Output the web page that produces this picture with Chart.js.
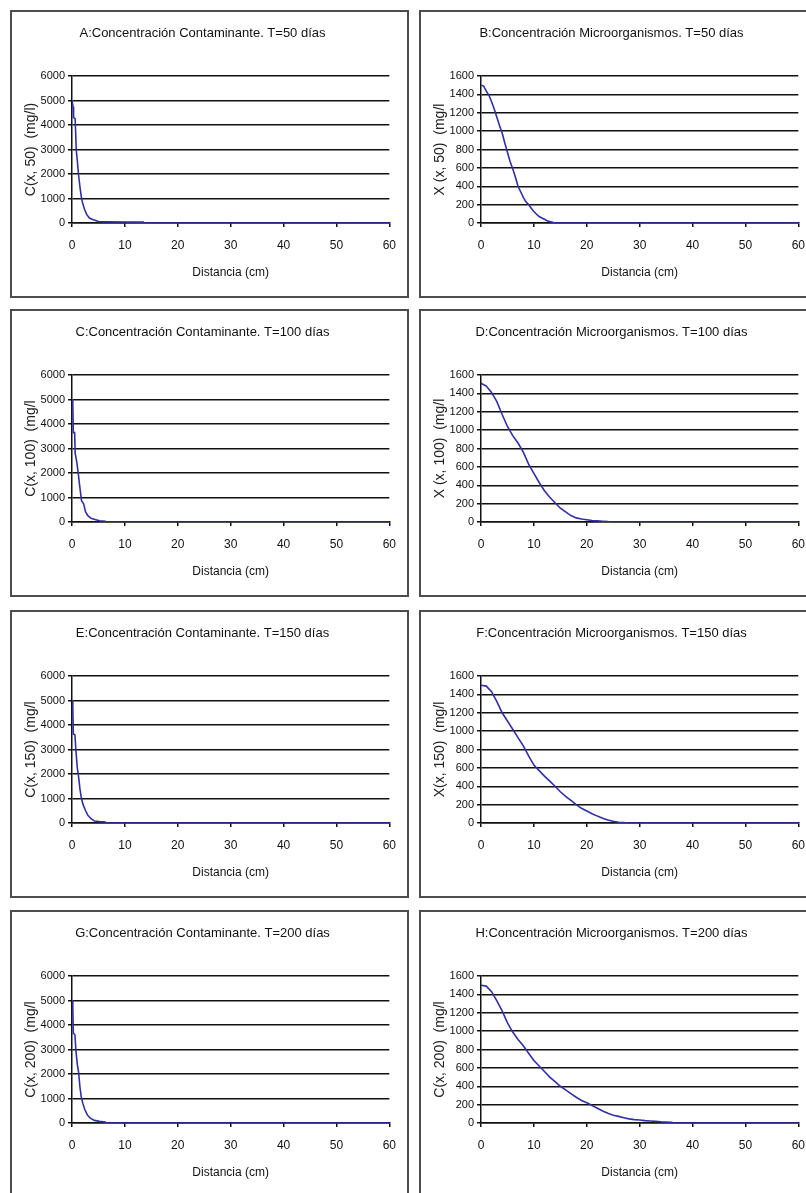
<!DOCTYPE html>
<html>
<head>
<meta charset="utf-8">
<script src="https://cdn.jsdelivr.net/npm/chart.js@4.4.1/dist/chart.umd.min.js"></script>
<style>
  html, body { margin: 0; padding: 0; background: #fff; }
  body { width: 806px; height: 1193px; overflow: hidden; position: relative; }
  .panel { position: absolute; width: 399px; height: 288px; box-sizing: border-box; border: 2px solid #4d4d4d; background: #fff; }
  .panel canvas { display: block; }
</style>
</head>
<body>
<div class="panel" style="left:10px; top:10px"><canvas id="cA" width="395" height="284"></canvas></div>
<div class="panel" style="left:419px; top:10px"><canvas id="cB" width="395" height="284"></canvas></div>
<div class="panel" style="left:10px; top:309px"><canvas id="cC" width="395" height="284"></canvas></div>
<div class="panel" style="left:419px; top:309px"><canvas id="cD" width="395" height="284"></canvas></div>
<div class="panel" style="left:10px; top:610px"><canvas id="cE" width="395" height="284"></canvas></div>
<div class="panel" style="left:419px; top:610px"><canvas id="cF" width="395" height="284"></canvas></div>
<div class="panel" style="left:10px; top:910px"><canvas id="cG" width="395" height="284"></canvas></div>
<div class="panel" style="left:419px; top:910px"><canvas id="cH" width="395" height="284"></canvas></div>
<script>
// --- datos ---
const distA = [0, 0.2, 0.3, 0.6, 0.8, 1.0, 1.25, 1.5, 1.75, 2.0, 2.4, 2.8, 3.3, 4.0, 4.5, 5.0, 5.5, 7, 10, 13.5, 13.6, 60];
const contA = [5000, 4750, 4300, 4250, 3000, 2550, 1950, 1480, 1080, 820, 540, 340, 200, 130, 100, 60, 50, 45, 40, 35, 0, 0];

const distB = [0, 0.5, 1, 1.5, 2, 2.5, 3, 3.5, 4, 4.5, 5, 5.5, 6, 6.5, 7, 7.5, 8, 8.5, 9, 9.5, 10, 10.5, 11, 11.5, 12, 12.5, 13, 13.5, 14, 60];
const microB = [1500, 1490, 1435, 1390, 1320, 1240, 1150, 1060, 980, 870, 770, 670, 590, 500, 400, 340, 280, 230, 200, 160, 125, 95, 70, 55, 40, 25, 15, 8, 0, 0];

const distC = [0, 0.15, 0.25, 0.5, 0.6, 0.9, 1.2, 1.45, 1.8, 2.2, 2.55, 3.0, 3.6, 4.5, 5.2, 6.3, 6.4, 60];
const contC = [5000, 4800, 3650, 3650, 2800, 2450, 1950, 1480, 870, 740, 420, 260, 150, 95, 50, 30, 0, 0];

const distD = [0, 1, 2, 3, 4, 5, 6, 7, 8, 9, 10, 11, 12, 13, 14, 15, 16, 17, 18, 19, 20, 21, 22, 23, 24, 24.2, 60];
const microD = [1510, 1480, 1410, 1310, 1170, 1040, 940, 860, 760, 630, 530, 430, 340, 270, 210, 150, 110, 70, 45, 32, 24, 17, 12, 8, 5, 0, 0];

const distE = [0, 0.15, 0.25, 0.55, 0.75, 1.0, 1.3, 1.5, 1.75, 2.05, 2.55, 3.0, 3.6, 4.25, 5.2, 6.3, 6.4, 60];
const contE = [5000, 4750, 3630, 3600, 2930, 2260, 1790, 1390, 1050, 780, 510, 310, 175, 80, 55, 40, 0, 0];

const distF = [0, 1, 2, 3, 4, 5, 6, 7, 8, 9, 10, 11, 12, 13, 14, 15, 16, 17, 18, 19, 20, 21, 22, 23, 24, 25, 26, 27, 27.8, 60];
const microF = [1500, 1490, 1430, 1320, 1200, 1110, 1020, 930, 840, 730, 630, 570, 510, 455, 400, 340, 290, 245, 200, 160, 130, 100, 75, 52, 33, 19, 9, 4, 0, 0];

const distG = [0, 0.15, 0.25, 0.55, 0.75, 1.0, 1.25, 1.5, 1.75, 2.05, 2.4, 2.9, 3.45, 4.25, 5.2, 6.3, 6.4, 60];
const contG = [5000, 4730, 3670, 3600, 2930, 2400, 2070, 1470, 1070, 800, 560, 330, 200, 107, 67, 40, 0, 0];

const distH = [0, 1, 2, 3, 4, 5, 6, 7, 8, 9, 10, 11, 12, 13, 14, 15, 16, 17, 18, 19, 20, 21, 22, 23, 24, 25, 26, 27, 28, 29, 30, 31, 32, 33, 34, 35, 36, 36.5, 60];
const microH = [1500, 1490, 1430, 1330, 1220, 1090, 990, 910, 840, 760, 680, 620, 560, 500, 450, 400, 360, 320, 280, 245, 220, 190, 160, 130, 105, 85, 72, 58, 45, 37, 32, 26, 22, 18, 13, 10, 7, 0, 0];

const xTicks = [0, 10, 20, 30, 40, 50, 60];
const xTitulo = 'Distancia (cm)';

const NARROW = '"Liberation Sans Narrow", "Arial Narrow", "Liberation Sans", Arial, sans-serif';
const SANS = '"Liberation Sans", Arial, sans-serif';

function crearGrafica(id, titulo, yTitulo, xs, ys, yMax, yStep) {
    const ctx = document.getElementById(id);
    const puntos = xs.map((x, i) => ({ x: x, y: ys[i] }));
    return new Chart(ctx, {
        type: 'line',
        data: {
            datasets: [{
                data: puntos,
                borderColor: '#2f2fa8',
                borderWidth: 1.6,
                pointRadius: 0,
                tension: 0,
                fill: false
            }]
        },
        options: {
            responsive: false,
            animation: false,
            devicePixelRatio: 1,
            layout: { padding: { left: 0, right: 14, top: 0, bottom: 13 } },
            plugins: {
                legend: { display: false },
                tooltip: { enabled: false },
                title: {
                    display: true,
                    text: titulo,
                    color: '#111',
                    font: { family: SANS, size: 13, weight: 'normal' },
                    padding: { top: 13.2, bottom: 35.2 }
                }
            },
            scales: {
                x: {
                    type: 'linear',
                    min: 0, max: 60,
                    afterBuildTicks: s => { s.ticks = xTicks.map(v => ({ value: v })); },
                    afterFit: s => { s.height = 60; },
                    grid: { drawOnChartArea: false, drawTicks: true, tickLength: 4, color: '#111', lineWidth: 1.5 },
                    border: { display: true, color: '#111', width: 1.5 },
                    ticks: { color: '#111', padding: 11, maxRotation: 0, font: { family: NARROW, size: 12 }, callback: v => String(v) },
                    title: { display: true, text: xTitulo, color: '#111', font: { family: NARROW, size: 12 }, padding: { top: 0, bottom: 2.8 } }
                },
                y: {
                    min: 0, max: yMax,
                    afterFit: s => { s.width = 60; },
                    grid: { drawTicks: true, tickLength: 4, color: '#111', lineWidth: 1.5 },
                    border: { display: true, color: '#111', width: 1.5 },
                    ticks: { stepSize: yStep, color: '#111', padding: 3, font: { family: NARROW, size: 11 }, callback: v => String(v) },
                    title: { display: true, text: yTitulo, color: '#222', font: { family: SANS, size: 14 }, padding: { top: 11, bottom: 0 } }
                }
            }
        }
    });
}

crearGrafica('cA', 'A:Concentración Contaminante. T=50 días', 'C(x, 50)  (mg/l)', distA, contA, 6000, 1000);
crearGrafica('cB', 'B:Concentración Microorganismos. T=50 días', 'X (x, 50)  (mg/l', distB, microB, 1600, 200);
crearGrafica('cC', 'C:Concentración Contaminante. T=100 días', 'C(x, 100)  (mg/l', distC, contC, 6000, 1000);
crearGrafica('cD', 'D:Concentración Microorganismos. T=100 días', 'X (x, 100)  (mg/l', distD, microD, 1600, 200);
crearGrafica('cE', 'E:Concentración Contaminante. T=150 días', 'C(x, 150)  (mg/l', distE, contE, 6000, 1000);
crearGrafica('cF', 'F:Concentración Microorganismos. T=150 días', 'X(x, 150)  (mg/l', distF, microF, 1600, 200);
crearGrafica('cG', 'G:Concentración Contaminante. T=200 días', 'C(x, 200)  (mg/l', distG, contG, 6000, 1000);
crearGrafica('cH', 'H:Concentración Microorganismos. T=200 días', 'C(x, 200)  (mg/l', distH, microH, 1600, 200);
</script>
</body>
</html>
